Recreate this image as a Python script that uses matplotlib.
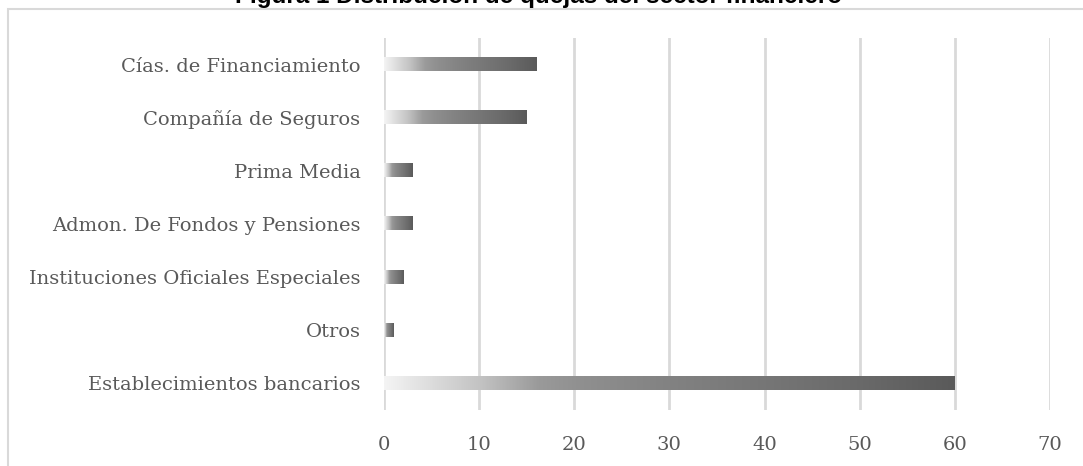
import numpy as np
import matplotlib.pyplot as plt
from matplotlib.colors import LinearSegmentedColormap
from matplotlib.patches import Rectangle

# Datos
categorias = ['Establecimientos bancarios', 'Otros', 'Instituciones Oficiales Especiales',
              'Admon. De Fondos y Pensiones', 'Prima Media', 'Compañía de Seguros',
              'Cías. de Financiamiento']
quejas = [60, 1, 2, 3, 3, 15, 16]
ticks_x = [0, 10, 20, 30, 40, 50, 60, 70]

# Degradado de gris claro a gris oscuro para las barras
degradado = LinearSegmentedColormap.from_list('gris', [
    (0.0, '#f4f4f4'), (0.17, '#c2c2c2'), (0.27, '#9a9a9a'), (0.35, '#8f8f8f'),
    (0.5, '#828282'), (0.67, '#767676'), (0.83, '#6a6a6a'), (1.0, '#5a5a5a')])
gradiente = np.linspace(0, 1, 256).reshape(1, -1)

fig = plt.figure(figsize=(10.83, 4.66), dpi=100)
ax = fig.add_axes([0.3546, 0.1202, 0.6149, 0.7983])

alto = 0.245
for i, v in enumerate(quejas):
    ax.imshow(gradiente, cmap=degradado, aspect='auto', interpolation='bilinear',
              extent=(0, v, i - alto / 2, i + alto / 2), zorder=3)

ax.set_xlim(0, 70)
ax.set_ylim(-0.5, len(categorias) - 0.5)
ax.set_xticks(ticks_x)
ax.set_yticks(range(len(categorias)))
ax.set_yticklabels(categorias)
ax.grid(axis='x', color='#d9d9d9', linewidth=2, zorder=0)
ax.tick_params(length=0, labelcolor='#595959', labelsize=14)
for lab in ax.get_xticklabels() + ax.get_yticklabels():
    lab.set_fontfamily('DejaVu Serif')
ax.tick_params(axis='y', pad=17)
ax.tick_params(axis='x', pad=19)
for s in ax.spines.values():
    s.set_visible(False)

# Marco del gráfico
fig.patches.append(Rectangle((8 / 1083, -0.1), 1.2, 0.98 + 0.1 + 0.001,
                             transform=fig.transFigure, fill=False,
                             edgecolor='#d9d9d9', linewidth=1.5))

fig.text(0.497, 0.994, 'Figura 1 Distribución de quejas del sector financiero',
         ha='center', va='baseline', fontsize=17.5, fontweight='bold',
         family='Liberation Sans')

fig.savefig('out.png', dpi=100)
